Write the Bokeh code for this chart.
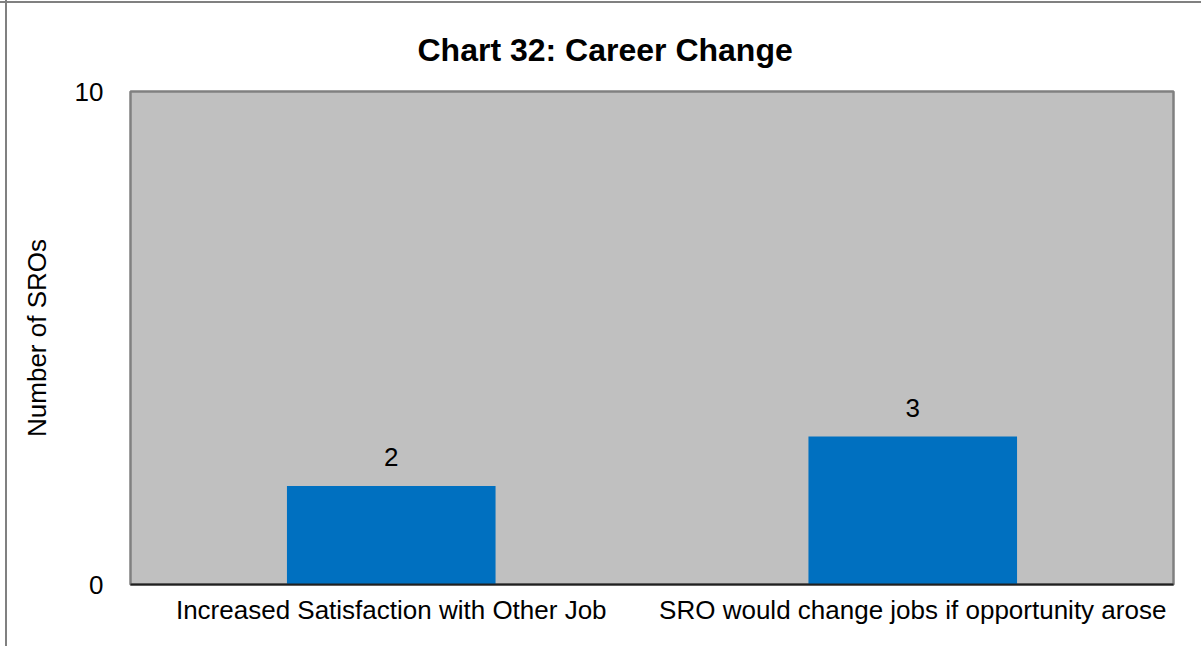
from bokeh.plotting import figure
from bokeh.models import ColumnDataSource, LabelSet, FixedTicker, Range1d
from bokeh.core.properties import value
from bokeh.embed import file_html
from bokeh.resources import INLINE

categories = ["Increased Satisfaction with Other Job", "SRO would change jobs if opportunity arose"]
values = [2, 3]
y_ticks = [0, 10]

src = ColumnDataSource(dict(cat=categories, val=values, lab=[str(v) for v in values]))

p = figure(x_range=categories, y_range=Range1d(0, 10), width=1201, height=646,
           output_backend="svg", toolbar_location=None,
           min_border_left=130, min_border_right=28, min_border_top=91, min_border_bottom=62)
p.background_fill_color = "#C0C0C0"
p.border_fill_color = "white"
p.border_fill_alpha = 0
p.outline_line_color = "#808080"
p.outline_line_width = 2.5
p.grid.visible = False

p.vbar(x="cat", top="val", width=0.4, source=src, color="#0070C0", line_color=None)
p.add_layout(LabelSet(x="cat", y="val", text="lab", source=src, y_offset=20,
                      text_align="center", text_baseline="bottom",
                      text_font=value("Liberation Sans"), text_font_size="26px", text_color="black"))

p.title.text = "Chart 32: Career Change"
p.title.align = "left"
p.title.offset = 287
p.title.text_font = "Liberation Sans"
p.title.text_font_size = "32px"
p.title.text_font_style = "bold"
p.title.text_color = "black"
p.title.standoff = 47

p.yaxis.ticker = FixedTicker(ticks=y_ticks)
p.yaxis.axis_label = "Number of SROs"
p.yaxis.axis_label_text_font = "Liberation Sans"
p.yaxis.axis_label_text_font_size = "26px"
p.yaxis.axis_label_text_font_style = "normal"
p.yaxis.axis_label_text_color = "black"
p.yaxis.axis_label_standoff = 20
p.yaxis.major_label_text_font = "Liberation Sans"
p.yaxis.major_label_text_font_size = "26px"
p.yaxis.major_label_text_color = "black"
p.yaxis.major_label_standoff = 21
p.yaxis.major_tick_line_color = None
p.yaxis.minor_tick_line_color = None
p.yaxis.axis_line_color = None

p.xaxis.major_label_text_font = "Liberation Sans"
p.xaxis.major_label_text_font_size = "26px"
p.xaxis.major_label_text_color = "black"
p.xaxis.major_label_standoff = 4
p.xaxis.major_tick_line_color = None
p.xaxis.axis_line_color = "#202020"
p.xaxis.axis_line_width = 2

p.styles = {"background": "linear-gradient(to right, transparent 5px, #808080 5px, #808080 7px, transparent 7px), "
                          "linear-gradient(to bottom, transparent 1px, #808080 1px, #808080 3px, white 3px)"}

open("out.html", "w").write(file_html(p, INLINE))
